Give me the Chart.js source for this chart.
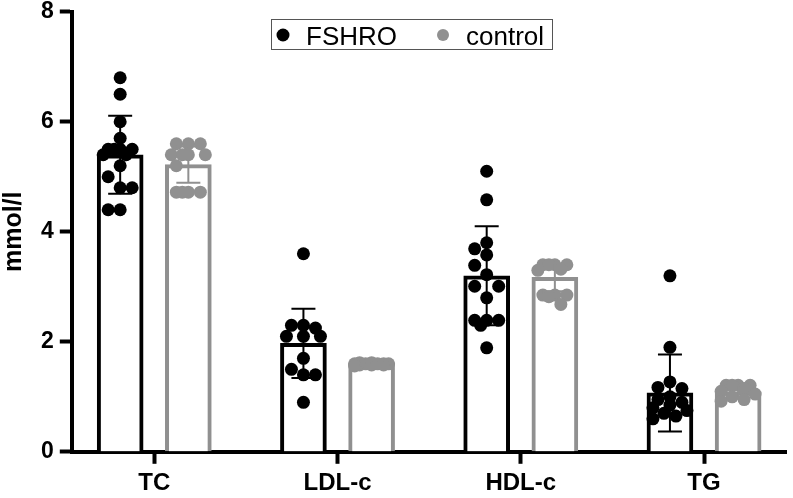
<!DOCTYPE html>
<html>
<head>
<meta charset="utf-8">
<script src="https://cdn.jsdelivr.net/npm/chart.js@4/dist/chart.umd.min.js"></script>
<style>
  html, body { margin: 0; padding: 0; background: #fff; overflow: hidden; }
  #wrap { width: 793px; height: 503px; }
</style>
</head>
<body>
<div id="wrap"><canvas id="lipidChart"></canvas></div>
<script>
const categories = ['TC', 'LDL-c', 'HDL-c', 'TG'];
const seriesNames = ['FSHRO', 'control'];
const yTicks = [0, 2, 4, 6, 8];

// bar heights (mean) and error bars (SD)
const fshroMean = [5.40, 1.97, 3.20, 1.07];
const fshroSD = [0.71, 0.63, 0.90, 0.70];
const controlMean = [5.22, 1.62, 3.17, 1.09];
const controlSD = [0.33, 0.04, 0.25, 0.12];

// individual points per category
const fshroTC = [6.8, 6.5, 6.0, 5.7, 5.5, 5.5, 5.5, 5.5, 5.4, 5.4, 5.2, 5.0, 4.8, 4.8, 4.4, 4.4];
const fshroLDL = [3.6, 2.3, 2.3, 2.25, 2.1, 2.1, 2.1, 1.7, 1.5, 1.4, 1.4, 0.9];
const fshroHDL = [5.1, 4.58, 3.8, 3.69, 3.58, 3.39, 3.22, 3.01, 3.01, 2.8, 2.39, 2.39, 2.39, 2.3, 1.89];
const fshroTG = [3.2, 1.9, 1.27, 1.17, 1.15, 1.0, 0.95, 0.9, 0.85, 0.8, 0.75, 0.7, 0.65, 0.6];

const controlTC = [5.6, 5.6, 5.6, 5.4, 5.4, 5.4, 5.4, 5.2, 4.72, 4.72, 4.72, 4.72];
const controlLDL = [1.62, 1.6, 1.6, 1.6, 1.58, 1.58, 1.6, 1.62, 1.56, 1.6, 1.6, 1.58];
const controlHDL = [3.4, 3.4, 3.4, 3.4, 3.32, 3.3, 2.85, 2.85, 2.85, 2.82, 2.68];
const controlTG = [1.21, 1.21, 1.21, 1.21, 1.15, 1.1, 1.05, 1.0, 0.95, 0.92];

const fshroPoints = [fshroTC, fshroLDL, fshroHDL, fshroTG];
const controlPoints = [controlTC, controlLDL, controlHDL, controlTG];

const BLACK = '#000000';
const GREY = '#909090';
const FONT = "'Liberation Sans', Arial, sans-serif";
const SHIFT = 0.186; // half distance between the two bars of a group

function toPoints(groups, shift) {
  const out = [];
  groups.forEach((vals, i) => vals.forEach(v => out.push({ x: i + shift, y: v, g: i })));
  return out;
}

// spread overlapping dots sideways, like a scatter dot plot
function swarm(ys, r) {
  const cands = [0, -12, 12, -17, 17, -6, 6];
  const placed = [];
  const xs = [];
  const order = ys.map((y, i) => i).sort((a, b) => ys[a] - ys[b]);
  order.forEach(i => {
    let best = 0, bestD = -1;
    for (const c of cands) {
      const d = Math.min(Infinity, ...placed.map(p => Math.hypot(p.x - c, p.y - ys[i])));
      if (d >= 2 * r * 0.92) { best = c; break; }
      if (d > bestD) { bestD = d; best = c; }
    }
    placed.push({ x: best, y: ys[i] });
    xs[i] = best;
  });
  return xs;
}

const swarmPlugin = {
  id: 'swarm',
  afterDatasetsUpdate(chart) {
    chart.data.datasets.forEach((ds, di) => {
      if (ds.type !== 'scatter') return;
      const meta = chart.getDatasetMeta(di);
      const r = ds.pointRadius;
      categories.forEach((c, g) => {
        const idx = [];
        ds.data.forEach((p, k) => { if (p.g === g) idx.push(k); });
        const xs = swarm(idx.map(k => meta.data[k].y), r);
        idx.forEach((k, n) => { meta.data[k].x += xs[n]; });
      });
    });
  }
};

const errorBarPlugin = {
  id: 'errorBars',
  afterDatasetsDraw(chart) {
    const ctx = chart.ctx;
    const y = chart.scales.y;
    [[0, fshroMean, fshroSD, BLACK], [1, controlMean, controlSD, GREY]].forEach(([di, mean, sd, col]) => {
      const meta = chart.getDatasetMeta(di);
      meta.data.forEach((bar, i) => {
        const top = y.getPixelForValue(mean[i] + sd[i]);
        const bot = y.getPixelForValue(mean[i] - sd[i]);
        ctx.save();
        ctx.strokeStyle = col;
        ctx.lineWidth = 2;
        ctx.beginPath();
        ctx.moveTo(bar.x, top); ctx.lineTo(bar.x, bot);
        ctx.moveTo(bar.x - 12, top); ctx.lineTo(bar.x + 12, top);
        ctx.moveTo(bar.x - 12, bot); ctx.lineTo(bar.x + 12, bot);
        ctx.stroke();
        ctx.restore();
      });
    });
  }
};

const legendPlugin = {
  id: 'boxLegend',
  afterDraw(chart) {
    const ctx = chart.ctx;
    ctx.save();
    ctx.strokeStyle = '#555';
    ctx.lineWidth = 1;
    ctx.strokeRect(271.5, 19.5, 281, 30);
    ctx.fillStyle = BLACK;
    ctx.beginPath(); ctx.arc(283, 35, 6.5, 0, Math.PI * 2); ctx.fill();
    ctx.fillStyle = GREY;
    ctx.beginPath(); ctx.arc(443, 35, 6, 0, Math.PI * 2); ctx.fill();
    ctx.fillStyle = BLACK;
    ctx.font = '26px ' + FONT;
    ctx.textBaseline = 'alphabetic';
    ctx.fillText(seriesNames[0], 306, 45);
    ctx.fillText(seriesNames[1], 466, 45);
    ctx.restore();
  }
};

new Chart(document.getElementById('lipidChart'), {
  type: 'bar',
  data: {
    datasets: [
      {
        label: seriesNames[0],
        data: fshroMean.map((m, i) => ({ x: i - SHIFT, y: m })),
        backgroundColor: '#ffffff',
        borderColor: BLACK,
        borderWidth: 4,
        borderSkipped: 'start',
        barThickness: 46,
        grouped: false,
        order: 3
      },
      {
        label: seriesNames[1],
        data: controlMean.map((m, i) => ({ x: i + SHIFT, y: m })),
        backgroundColor: '#ffffff',
        borderColor: GREY,
        borderWidth: 4,
        borderSkipped: 'start',
        barThickness: 46,
        grouped: false,
        order: 3
      },
      {
        type: 'scatter',
        label: seriesNames[0] + ' points',
        data: toPoints(fshroPoints, -SHIFT),
        pointRadius: 6.5,
        pointBorderWidth: 0,
        backgroundColor: BLACK,
        borderColor: BLACK,
        order: 1
      },
      {
        type: 'scatter',
        label: seriesNames[1] + ' points',
        data: toPoints(controlPoints, SHIFT),
        pointRadius: 6.5,
        pointBorderWidth: 0,
        backgroundColor: GREY,
        borderColor: GREY,
        order: 2
      }
    ]
  },
  options: {
    responsive: true,
    maintainAspectRatio: false,
    animation: false,
    layout: { padding: { left: 2, right: 5, top: 0, bottom: 0 } },
    plugins: { legend: { display: false }, tooltip: { enabled: false } },
    scales: {
      x: {
        type: 'linear',
        offset: false,
        min: -0.45,
        max: 3.45,
        afterBuildTicks: s => { s.ticks = categories.map((c, i) => ({ value: i })); },
        ticks: {
          callback: v => categories[v],
          color: BLACK,
          font: { family: FONT, size: 24, weight: 'bold', lineHeight: 0.8 },
          padding: 10,
          maxRotation: 0,
          autoSkip: false
        },
        grid: { offset: false, drawOnChartArea: false, drawTicks: true, tickLength: 12, tickWidth: 4, color: BLACK },
        border: { display: true, color: BLACK, width: 4 }
      },
      y: {
        min: 0,
        max: 8,
        afterBuildTicks: s => { s.ticks = yTicks.map(v => ({ value: v })); },
        ticks: {
          color: BLACK,
          font: { family: FONT, size: 23, weight: 'bold', lineHeight: 0.5 },
          padding: 6
        },
        title: {
          display: true,
          text: 'mmol/l',
          color: BLACK,
          font: { family: FONT, size: 25, weight: 'bold', lineHeight: 1 },
          padding: { top: 0, bottom: 8 }
        },
        grid: { drawOnChartArea: false, drawTicks: true, tickLength: 12, tickWidth: 4, color: BLACK },
        border: { display: true, color: BLACK, width: 4 }
      }
    }
  },
  plugins: [swarmPlugin, errorBarPlugin, legendPlugin]
});
</script>
</body>
</html>
